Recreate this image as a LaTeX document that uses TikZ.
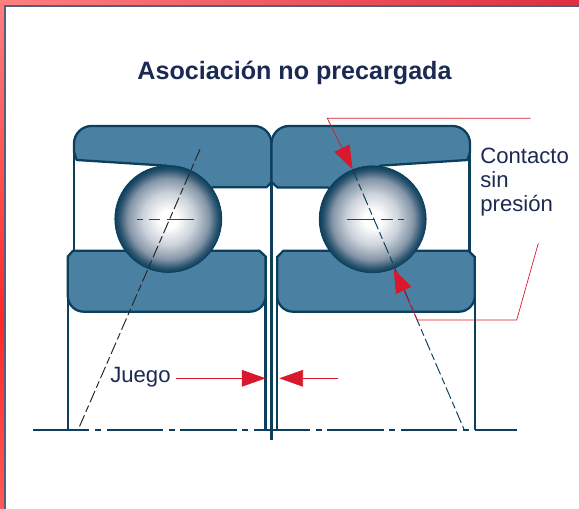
\documentclass[tikz,border=0pt]{standalone}
\usepackage{fontspec}
\setmainfont{Liberation Sans}
\usepackage{tikz}
\usetikzlibrary{arrows.meta,positioning,calc}
\definecolor{ringfill}{HTML}{4A80A2}
\definecolor{ringline}{HTML}{0B3F5C}
\definecolor{inkblue}{HTML}{1B2A52}
\definecolor{leaderred}{HTML}{D9182D}
\definecolor{ballmid}{HTML}{6F8298}
\pgfdeclareradialshading{ballshade}{\pgfpoint{0bp}{0bp}}{color(0bp)=(white); color(4bp)=(white); color(12bp)=(ballmid!35!white); color(19bp)=(ballmid!85!white); color(23bp)=(ringline!70!ballmid); color(25bp)=(ringline); color(50bp)=(ringline)}

\begin{document}
\begin{tikzpicture}[
    x=0.02cm, y=-0.02cm,
    ring/.style={draw=ringline, fill=ringfill, line width=1.3pt, line join=round},
    wall/.style={draw=ringline, line width=1.3pt},
    ball/.style={circle, draw=ringline, line width=0.4pt, shading=ballshade, minimum size=2.14cm, inner sep=0pt},
    axisline/.style={draw=ringline, line width=1.1pt, dash pattern=on 32.1pt off 3.2pt on 3.4pt off 3.2pt},
    contact/.style={line width=0.55pt, dash pattern=on 7pt off 2pt on 4pt off 2pt},
    leader/.style={draw=leaderred, line width=0.4pt},
    pointer/.style={leader, -{Triangle[length=13.5pt,width=9.5pt,fill=leaderred]}},
    label/.style={text=inkblue, font=\fontsize{12.6}{13.6}\selectfont, inner sep=0pt, align=left}
]
\useasboundingbox (0,0) rectangle (579,509);

% Red frame
\shade[left color=red!50!white, right color=leaderred!90!white] (0,0) rectangle (579,6);
\shade[top color=red!50!white, bottom color=red!85!white] (0,0) rectangle (5,320);
\shade[top color=red!85!white, bottom color=red!65!white] (0,320) rectangle (5,509);
\draw[inkblue!75!white, line width=0.8pt] (5,509) -- (5,6) -- (579,6);

% Title
\node (title) [text=inkblue, font=\fontsize{14.3}{16}\selectfont\bfseries, inner sep=0pt, anchor=base] at (294.5,80) {Asociación no precargada};

% Walls below the rings
\draw[wall] (74,150) -- (74,252);
\draw[wall] (469.5,150) -- (469.5,252);
\draw[wall] (67.8,256) -- (67.8,430);
\draw[wall] (265.6,256) -- (265.6,430);
\draw[wall] (271.4,180) -- (271.4,440);
\draw[wall] (277.2,256) -- (277.2,430);
\draw[wall] (474.8,256) -- (474.8,430);

% Outer rings
\draw[ring] (76.7,160) -- (74,152) [rounded corners=10pt] -- (74,126) -- (271.5,126) [sharp corners] -- (271.5,182) -- (266.5,187.3) -- (213,187.3) -- (168.3,219) -- (166.5,165.7) -- cycle;
\draw[ring] (467.5,160) -- (470,152) [rounded corners=10pt] -- (470,126) -- (271.5,126) [sharp corners] -- (271.5,182) -- (277.5,187.5) -- (328,187.5) -- (372.7,219) -- (380,165.7) -- cycle;

% Inner rings
\draw[ring] (67.8,256.5) -- (73,250.8) -- (259.5,250.8) -- (265.6,256.5) [rounded corners=9pt] -- (265.6,311.7) -- (67.8,311.7) [sharp corners] -- cycle;
\draw[ring] (277.2,257) -- (283.3,250.8) -- (468.5,250.8) -- (474.8,257) [rounded corners=9pt] -- (474.8,311.7) -- (277.2,311.7) [sharp corners] -- cycle;

% Balls
\node (ballL) [ball] at (168.3,219) {};
\node (ballR) [ball] at (372.7,219.3) {};

% Centre marks of the balls
\draw[black!75, line width=0.45pt, dash pattern=on 3.4pt off 3pt on 6.8pt off 3.7pt on 15.5pt] (137.3,219) -- (194,219);
\draw[black!75, line width=0.45pt, dash pattern=on 15.5pt off 3.7pt on 6.8pt off 3pt on 3.4pt] (347.3,219.3) -- (404,219.3);

% Contact lines
\draw[contact, black!85] (200,149.3) -- (78.3,429.3);
\draw[contact, ringline] (ballR.112) -- (464,429.3);

% Axis
\draw[axisline] (33,430) -- (517,430);

% Labels
\node (contacto) [label, anchor=base west] at (480,211.7) {Contacto\\sin\\presión};
\node (juego) [label, anchor=base west, inner xsep=2.8pt] at (105,383) {Juego};

% Leaders
\coordinate (topEnd) at (530.7,118.3);
\coordinate (topBend) at (327.3,118.3);
\coordinate (lowEnd) at (538.3,243.3);
\coordinate (lowBend) at (516.7,320);
\coordinate (lowKnee) at (417.3,320);
\coordinate (gapL) at (265.6,378.3);
\coordinate (gapR) at (279.3,378.3);
\coordinate (gapTail) at (337.7,378.3);
\draw[pointer] (topEnd) -- (topBend) -- (ballR.112);
\draw[pointer] (lowEnd) -- (lowBend) -- (lowKnee) -- (ballR.-67);
\draw[pointer] (juego.east |- gapL) -- (gapL);
\draw[pointer] (gapTail) -- (gapR);

\end{tikzpicture}
\end{document}
